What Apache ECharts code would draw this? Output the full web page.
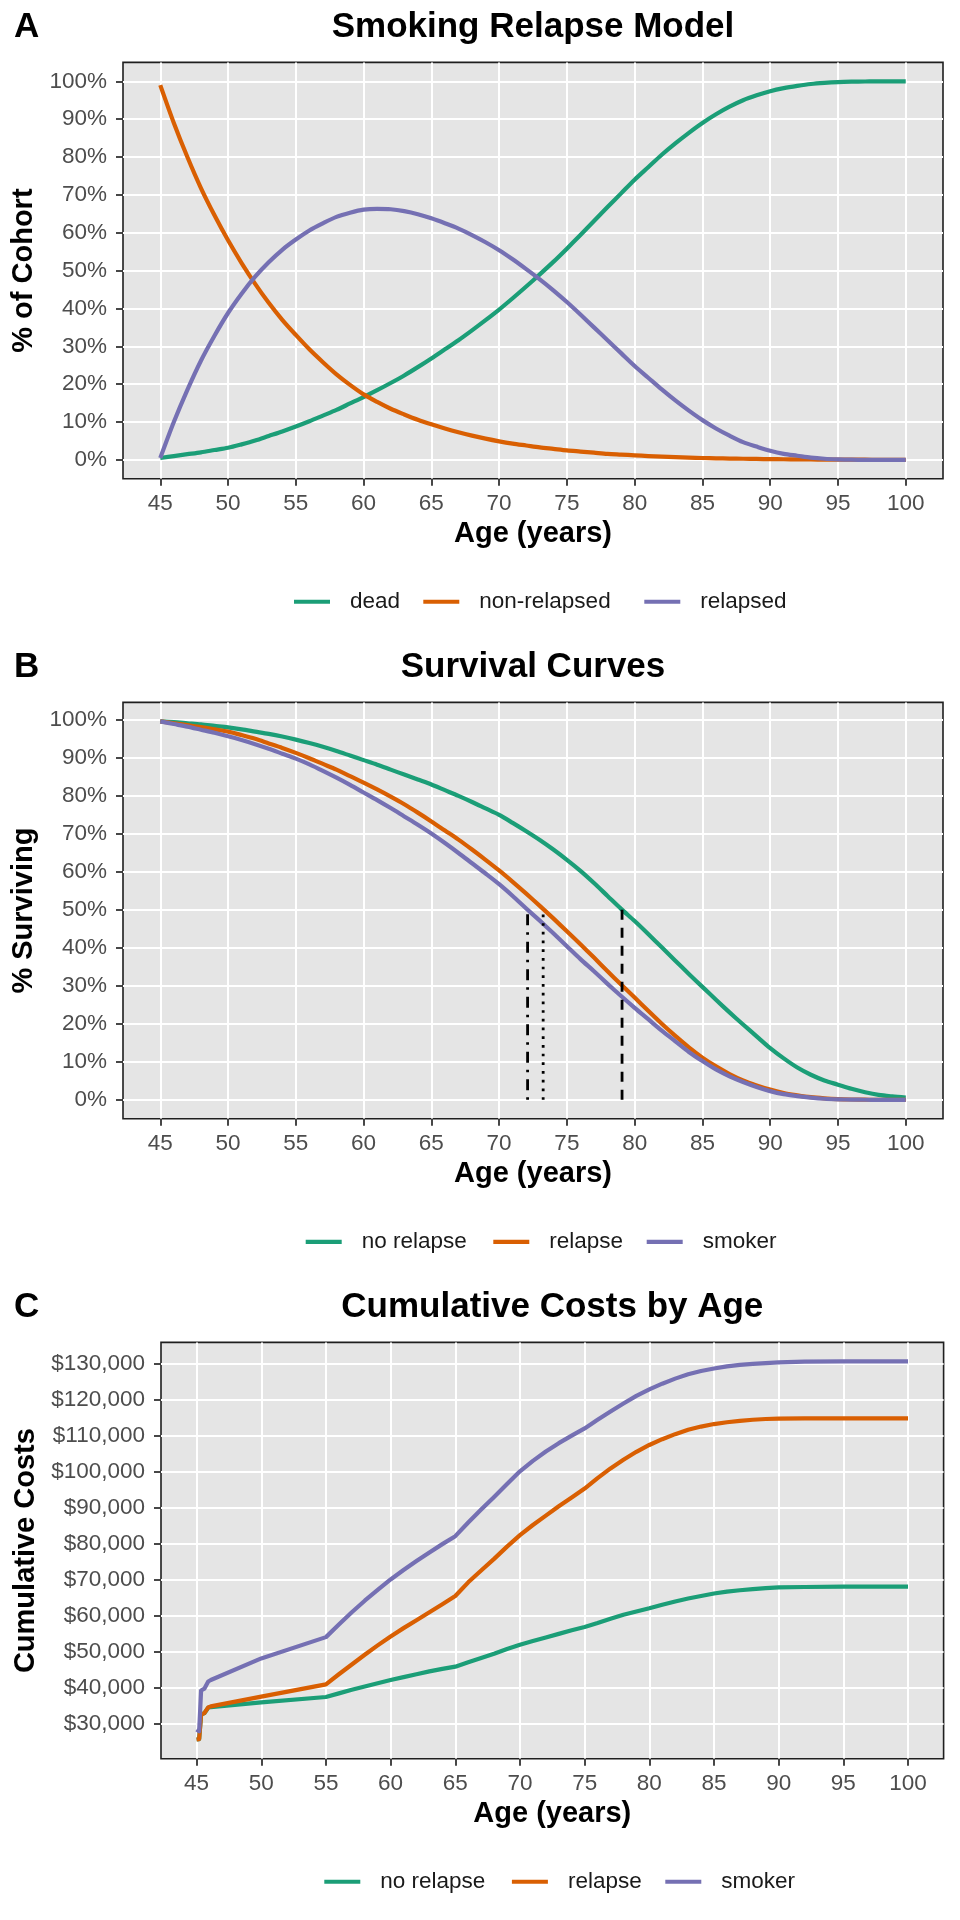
<!DOCTYPE html>
<html>
<head>
<meta charset="utf-8">
<script src="https://cdn.jsdelivr.net/npm/echarts@6/dist/echarts.min.js"></script>
<style>html,body{margin:0;padding:0;background:#fff}#c{width:960px;height:1920px}</style>
</head>
<body>
<div id="c"></div>
<script>
// ---------- DATA ----------
const ages = [45,46,47,48,49,50,51,52,53,54,55,56,57,58,59,60,61,62,63,64,65,66,67,68,69,70,71,72,73,74,75,76,77,78,79,80,81,82,83,84,85,86,87,88,89,90,91,92,93,94,95,96,97,98,99,100];

// Panel A: Smoking Relapse Model (% of cohort)
const deadA = [0.5,1.0,1.5,2.0,2.6, 3.2,4.1,5.1,6.3,7.5, 8.8,10.2,11.7,13.2,14.9, 16.6,18.4,20.3,22.3,24.5, 26.8,29.2,31.6,34.2,36.9, 39.7,42.7,45.8,49.0,52.3, 55.8,59.4,63.1,66.8,70.4, 74.0,77.3,80.6,83.6,86.4, 89.0,91.3,93.3,95.0,96.3, 97.4,98.2,98.8,99.3,99.6, 99.8,99.9,99.95,100,100, 100];
const nonRelapsedA = [99,89,80,71.8,64.6, 58,52,46.5,41.5,37, 33,29.2,25.8,22.6,19.8, 17.3,15.3,13.5,12.0,10.6, 9.4,8.3,7.3,6.4,5.6, 4.9,4.3,3.8,3.3,2.9, 2.5,2.2,1.9,1.6,1.4, 1.2,1.0,0.85,0.72,0.6, 0.5,0.42,0.35,0.29,0.24, 0.2,0.16,0.13,0.1,0.08, 0.06,0.05,0.04,0.03,0.02, 0.02];
const relapsedA = [0.5,10,18.5,26.2,32.8, 38.8,43.9,48.4,52.2,55.5, 58.2,60.6,62.5,64.2,65.3, 66.1,66.3,66.2,65.7,64.9, 63.8,62.5,61.1,59.4,57.5, 55.4,53.0,50.4,47.7,44.8, 41.7,38.4,35.0,31.6,28.2, 24.8,21.7,18.6,15.7,13.0, 10.5,8.3,6.4,4.7,3.5, 2.4,1.6,1.1,0.6,0.3, 0.14,0.05,0.01,0,0, 0];

// Panel B: Survival Curves (% surviving)
const noRelapseB = [99.5,99.3,99.0,98.7,98.3, 97.9,97.4,96.8,96.2,95.5, 94.7,93.8,92.8,91.7,90.5, 89.3,88.1,86.8,85.5,84.2, 82.9,81.4,79.9,78.3,76.6, 74.9,72.8,70.6,68.3,65.8, 63.1,60.2,57.0,53.6,50.2, 47.0,43.6,40.1,36.6,33.1, 29.7,26.3,23.0,19.8,16.7, 13.6,10.9,8.5,6.6,5.1, 4.0,2.9,2.0,1.3,0.9, 0.6];
const relapseB = [99.5,99.0,98.5,98.0,97.4, 96.8,95.9,94.9,93.7,92.5, 91.2,89.8,88.3,86.8,85.1, 83.4,81.6,79.7,77.7,75.5, 73.2,70.8,68.4,65.8,63.1, 60.3,57.3,54.2,51.0,47.7, 44.3,40.9,37.4,33.8,30.3, 26.9,23.4,20.0,16.8,13.8, 11.1,8.8,6.8,5.1,3.8, 2.7,1.8,1.2,0.7,0.4, 0.2,0.1,0.05,0,0, 0];
const smokerB = [99.5,98.8,98.1,97.3,96.5, 95.6,94.6,93.5,92.3,91.0, 89.7,88.2,86.5,84.7,82.8, 80.8,78.8,76.7,74.5,72.3, 70.0,67.5,64.9,62.2,59.5, 56.7,53.6,50.3,47.1,43.8, 40.4,37.0,33.8,30.5,27.3, 24.2,21.2,18.2,15.4,12.6, 10.2,8.0,6.2,4.7,3.4, 2.3,1.5,1.0,0.6,0.3, 0.15,0.07,0.03,0,0, 0];
// median survival ages (50% surviving)
const medianAges = { smoker: 72.1, relapse: 73.25, noRelapse: 79.07 };

// Panel C: Cumulative Costs by Age (thousands of dollars)
const costAges = [45,45.2,45.35,45.6,45.75,45.9,46.1,50,55, 56,57,58,59,60, 61,62,63,64,65, 66,67,68,69,70, 71,72,73,74,75, 76,77,78,79,80, 81,82,83,84,85, 86,87,88,89,90, 92,95,100];
const costNoRelapseK = [25.7,25.8,32.6,33.0,33.2,34.5,34.7,36.0,37.5, 38.5,39.5,40.4,41.3,42.2, 43.0,43.8,44.6,45.3,45.9, 47.1,48.3,49.5,50.8,52.0, 53.0,54.0,55.0,56.0,56.9, 58.0,59.2,60.3,61.2,62.1, 63.1,64.0,64.8,65.5,66.2, 66.7,67.1,67.4,67.7,67.9, 68.0,68.1,68.1];
const costRelapseK = [25.7,25.8,32.6,33.0,33.2,34.6,34.9,37.6,41.0, 43.8,46.5,49.2,51.8,54.3, 56.6,58.8,61.0,63.2,65.5, 69.3,72.6,75.8,79.2,82.4, 85.2,87.8,90.4,92.8,95.3, 98.2,100.9,103.3,105.5,107.4, 109.0,110.4,111.6,112.5,113.2, 113.7,114.1,114.4,114.6,114.7, 114.8,114.8,114.8];
const costSmokerK = [28.5,28.0,39.3,39.8,40.0,41.8,42.2,48.2,54.1, 57.6,61.0,64.2,67.2,70.1, 72.7,75.2,77.6,79.9,82.1, 85.9,89.5,93.0,96.6,100.1, 103.0,105.6,107.9,110.0,112.0, 114.4,116.7,118.9,121.0,122.8, 124.4,125.8,127.0,127.9,128.6, 129.2,129.6,129.9,130.1,130.3, 130.5,130.6,130.6];

// Tick values
const xTicks = [45,50,55,60,65,70,75,80,85,90,95,100];
const pctTicks = [0,10,20,30,40,50,60,70,80,90,100];
const costTicksK = [30,40,50,60,70,80,90,100,110,120,130];

// Labels
const titles = ['Smoking Relapse Model', 'Survival Curves', 'Cumulative Costs by Age'];
const panelLabels = ['A', 'B', 'C'];
const yTitles = ['% of Cohort', '% Surviving', 'Cumulative Costs'];
const xTitle = 'Age (years)';
const namesA = ['dead', 'non-relapsed', 'relapsed'];
const namesBC = ['no relapse', 'relapse', 'smoker'];

// ---------- STYLE ----------
const FONT = '"Liberation Sans", Arial, Helvetica, sans-serif';
const COLORS = ['#1B9E77', '#D95F02', '#7570B3'];
const LW = 4.2;
const panels = [
  { left: 123, top: 62.4, width: 820, height: 416.4, titleX: 533 },
  { left: 123, top: 702.4, width: 820, height: 416.4, titleX: 533 },
  { left: 161, top: 1342.4, width: 782.6, height: 416.4, titleX: 552.3 }
];
const yRanges = [[-5, 105], [-4.975, 104.475], [20.35, 135.85]];
const yNameGaps = [83, 83, 121];
const legendLefts = [[294, 423.3, 644.3], [305.7, 493.3, 646.7], [324.3, 511.9, 665.3]];
const legendKeyY = [601.5, 1241.7, 1881.5];

const pair = (xs, ys) => xs.map((x, i) => [x, ys[i]]);

const grids = panels.map(p => ({
  left: p.left, top: p.top, width: p.width, height: p.height,
  show: true, backgroundColor: '#E5E5E5', borderColor: '#1f1f1f', borderWidth: 1.6,
  containLabel: false
}));

const xAxes = panels.map((p, i) => ({
  type: 'value', gridIndex: i, min: 42.25, max: 102.75,
  axisLine: { show: false, onZero: false },
  axisTick: { show: true, customValues: xTicks, length: 7, lineStyle: { color: '#333', width: 1.8 } },
  axisLabel: { customValues: xTicks, margin: 13, fontSize: 22.5, color: '#4D4D4D', fontFamily: FONT },
  splitLine: { show: true, lineStyle: { color: '#FFFFFF', width: 2 } },
  name: xTitle, nameLocation: 'middle', nameGap: 41,
  nameTextStyle: { fontSize: 29, fontWeight: 'bold', color: '#000', fontFamily: FONT }
}));

const yFormatters = [
  v => v + '%',
  v => v + '%',
  v => '$' + (v * 1000).toLocaleString('en-US')
];
const yTickSets = [pctTicks, pctTicks, costTicksK];

const yAxes = panels.map((p, i) => ({
  type: 'value', gridIndex: i, min: yRanges[i][0], max: yRanges[i][1],
  axisLine: { show: false, onZero: false },
  axisTick: { show: true, customValues: yTickSets[i], length: 7, lineStyle: { color: '#333', width: 1.8 } },
  axisLabel: { customValues: yTickSets[i], margin: 16, fontSize: 22.5, color: '#4D4D4D', fontFamily: FONT, formatter: yFormatters[i] },
  splitLine: { show: true, lineStyle: { color: '#FFFFFF', width: 2 } },
  name: yTitles[i], nameLocation: 'middle', nameGap: yNameGaps[i], nameRotate: 90,
  nameTextStyle: { fontSize: 29, fontWeight: 'bold', color: '#000', fontFamily: FONT }
}));

const titleComps = [];
panels.forEach((p, i) => {
  titleComps.push({
    text: panelLabels[i], left: 14, top: p.top - 52.4, padding: 0,
    textStyle: { fontSize: 35, fontWeight: 'bold', color: '#000', fontFamily: FONT }
  });
  titleComps.push({
    text: titles[i], left: p.titleX, top: p.top - 52.4, padding: 0, textAlign: 'center',
    textStyle: { fontSize: 35, fontWeight: 'bold', color: '#000', fontFamily: FONT }
  });
});

const lineSeries = (name, idx, data, color, smooth) => ({
  name, type: 'line', xAxisIndex: idx, yAxisIndex: idx, data,
  showSymbol: false, symbol: 'none', smooth: smooth,
  lineStyle: { color, width: LW, cap: 'butt', join: 'round' },
  itemStyle: { color },
  emphasis: { disabled: true }, silent: true
});

const series = [
  lineSeries(namesA[0], 0, pair(ages, deadA), COLORS[0], 0.3),
  lineSeries(namesA[1], 0, pair(ages, nonRelapsedA), COLORS[1], 0.3),
  lineSeries(namesA[2], 0, pair(ages, relapsedA), COLORS[2], 0.3),
  lineSeries(namesBC[0], 1, pair(ages, noRelapseB), COLORS[0], 0.3),
  lineSeries(namesBC[1], 1, pair(ages, relapseB), COLORS[1], 0.3),
  lineSeries(namesBC[2], 1, pair(ages, smokerB), COLORS[2], 0.3),
  lineSeries(namesBC[0], 2, pair(costAges, costNoRelapseK), COLORS[0], false),
  lineSeries(namesBC[1], 2, pair(costAges, costRelapseK), COLORS[1], false),
  lineSeries(namesBC[2], 2, pair(costAges, costSmokerK), COLORS[2], false)
];

// median reference lines in panel B
const refLines = [
  { name: 'median smoker', x: medianAges.smoker, dash: [2.7, 7, 10.8, 7] },
  { name: 'median relapse', x: medianAges.relapse, dash: [2.7, 6] },
  { name: 'median no relapse', x: medianAges.noRelapse, dash: [10, 8] }
];
refLines.forEach(r => {
  series.push({
    name: r.name, type: 'line', xAxisIndex: 1, yAxisIndex: 1,
    data: [[r.x, 0], [r.x, 50]], showSymbol: false, symbol: 'none',
    lineStyle: { color: '#000', width: 2.8, type: r.dash, cap: 'butt' },
    itemStyle: { color: '#000' }, emphasis: { disabled: true }, silent: true
  });
});

const legends = [];
[namesA, namesBC, namesBC].forEach((names, i) => {
  names.forEach((n, j) => {
    legends.push({
      data: [n], left: legendLefts[i][j], top: legendKeyY[i] - 11.25,
      orient: 'horizontal', icon: 'rect', itemWidth: 36, itemHeight: 4.2,
      padding: 0, itemGap: 0, selectedMode: false,
      textStyle: { fontSize: 22.5, color: '#1a1a1a', fontFamily: FONT, padding: [0, 0, 0, 15] }
    });
  });
});

const chart = echarts.init(document.getElementById('c'), null, { renderer: 'canvas', width: 960, height: 1920 });
chart.setOption({
  backgroundColor: '#FFFFFF',
  animation: false,
  tooltip: { show: false },
  title: titleComps,
  legend: legends,
  grid: grids,
  xAxis: xAxes,
  yAxis: yAxes,
  series
});
</script>
</body>
</html>
